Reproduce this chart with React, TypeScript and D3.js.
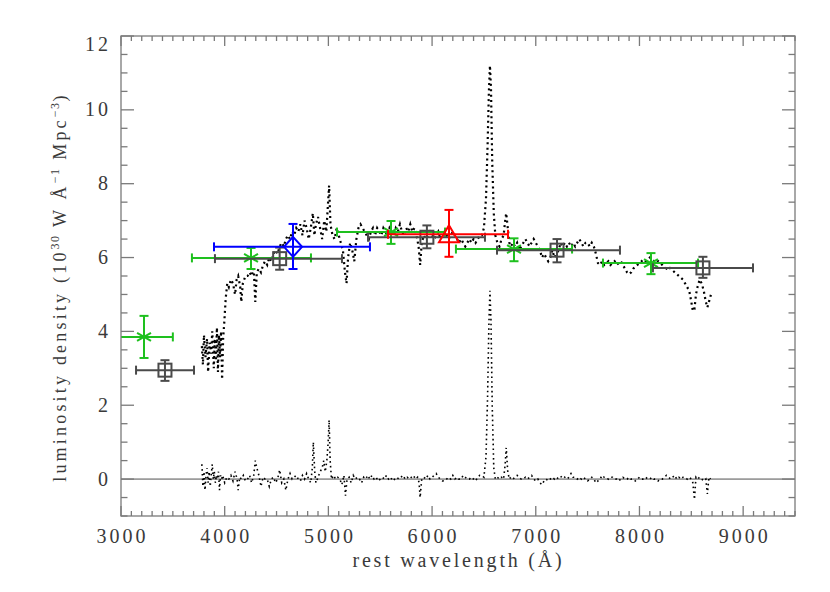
import * as d3 from "d3";

// upper (continuum) spectrum: rest wavelength (Å) and luminosity density
const specWave = [
  3780, 3790, 3800, 3815, 3830, 3840, 3855, 3870, 3880, 3895, 3905, 3915, 3925, 3935, 3945, 3955, 3965, 3975, 3985, 3995,
  4010, 4025, 4040, 4060, 4080, 4100, 4115, 4130, 4150, 4160, 4175, 4200, 4220, 4240, 4260, 4280, 4295, 4310, 4330, 4350,
  4370, 4390, 4410, 4430, 4450, 4470, 4490, 4510, 4530, 4550, 4570, 4590, 4610, 4630, 4650, 4670, 4690, 4710, 4730, 4750,
  4770, 4790, 4810, 4830, 4850, 4865, 4880, 4900, 4920, 4940, 4960, 4980, 4995, 5007, 5020, 5040, 5060, 5080, 5100, 5120,
  5140, 5160, 5175, 5190, 5210, 5230, 5250, 5270, 5290, 5310, 5330, 5350, 5370, 5390, 5410, 5430, 5450, 5470, 5490, 5510,
  5530, 5550, 5570, 5590, 5610, 5630, 5650, 5670, 5690, 5710, 5730, 5750, 5770, 5790, 5810, 5830, 5850, 5870, 5885, 5900,
  5920, 5940, 5960, 5980, 6000, 6020, 6040, 6060, 6080, 6100, 6120, 6140, 6160, 6180, 6200, 6220, 6240, 6260, 6280, 6300,
  6320, 6340, 6360, 6380, 6400, 6420, 6440, 6460, 6480, 6500, 6520, 6535, 6548, 6558, 6568, 6580, 6595, 6610, 6630, 6650,
  6670, 6690, 6705, 6715, 6730, 6745, 6760, 6780, 6800, 6820, 6840, 6860, 6880, 6900, 6920, 6940, 6960, 6980, 7000, 7020,
  7040, 7060, 7080, 7100, 7120, 7140, 7160, 7180, 7200, 7220, 7240, 7260, 7280, 7300, 7320, 7340, 7360, 7380, 7400, 7420,
  7440, 7460, 7480, 7500, 7520, 7540, 7560, 7580, 7600, 7620, 7640, 7660, 7680, 7700, 7720, 7740, 7760, 7780, 7800, 7820,
  7840, 7860, 7880, 7900, 7920, 7940, 7960, 7980, 8000, 8020, 8040, 8060, 8080, 8100, 8120, 8140, 8160, 8180, 8200, 8220,
  8240, 8260, 8280, 8300, 8320, 8340, 8360, 8380, 8400, 8420, 8440, 8460, 8480, 8500, 8515, 8530, 8545, 8560, 8580, 8600,
  8620, 8640, 8655, 8670, 8690,
];
const specFlux = [
  3.6, 3.1, 3.9, 3.3, 3.8, 2.9, 3.7, 3.4, 4.0, 3.0, 3.8, 3.2, 4.1, 2.9, 3.9, 3.3, 4.0, 2.7, 3.8, 4.2,
  4.9, 5.3, 5.2, 5.4, 5.3, 5.0, 5.4, 5.5, 5.2, 4.8, 5.3, 5.5, 5.5, 5.6, 5.5, 5.7, 4.8, 5.6, 5.7, 5.6,
  5.8, 5.9, 5.8, 6.0, 5.9, 6.1, 6.2, 6.1, 6.3, 6.4, 6.3, 6.5, 6.6, 6.5, 6.7, 6.6, 6.8, 6.7, 6.9, 6.6,
  7.0, 6.8, 6.5, 6.8, 7.2, 6.6, 6.9, 7.1, 6.8, 6.5, 7.0, 6.7, 7.4, 7.95, 6.9, 6.6, 6.5, 6.8, 6.6, 6.4,
  6.2, 5.6, 5.3, 6.0, 6.4, 6.2, 5.9, 6.5, 6.8, 6.9, 6.8, 6.7, 6.6, 6.5, 6.7, 6.8, 6.6, 6.8, 6.7, 6.6,
  6.8, 6.7, 6.6, 6.8, 6.7, 6.6, 6.8, 6.7, 6.9, 6.7, 6.6, 6.8, 6.7, 6.9, 6.7, 6.8, 6.6, 6.3, 5.8, 6.4,
  6.6, 6.5, 6.6, 6.7, 6.6, 6.5, 6.6, 6.7, 6.5, 6.6, 6.7, 6.6, 6.5, 6.6, 6.7, 6.6, 6.5, 6.4, 6.5, 6.4,
  6.3, 6.4, 6.5, 6.4, 6.5, 6.4, 6.5, 6.6, 6.6, 6.8, 7.6, 9.0, 10.5, 11.2, 10.6, 8.6, 7.2, 6.6, 6.4, 6.3,
  6.5, 6.6, 7.0, 7.2, 6.8, 6.4, 6.3, 6.4, 6.3, 6.4, 6.2, 6.3, 6.4, 6.5, 6.4, 6.3, 6.4, 6.5, 6.4, 6.3,
  6.2, 6.0, 6.1, 6.0, 5.9, 6.0, 6.2, 6.0, 6.1, 6.2, 6.4, 6.3, 6.4, 6.3, 6.4, 6.3, 6.4, 6.3, 6.4, 6.5,
  6.4, 6.3, 6.4, 6.4, 6.3, 6.4, 6.3, 6.1, 5.85, 5.8, 5.9, 5.8, 5.85, 5.9, 5.8, 5.85, 5.9, 5.8, 5.85, 5.9,
  5.8, 5.7, 5.6, 5.55, 5.6, 5.7, 5.75, 5.8, 5.85, 5.9, 5.95, 5.9, 5.95, 6.0, 5.95, 5.9, 5.85, 5.9, 5.85, 5.8,
  5.75, 5.7, 5.75, 5.7, 5.65, 5.6, 5.55, 5.5, 5.45, 5.4, 5.3, 5.2, 5.1, 4.8, 4.55, 4.6, 5.0, 5.2, 5.4, 5.3,
  5.1, 4.8, 4.65, 4.8, 5.0,
];

// lower (residual / emission-line) spectrum
const residWave = [
  3780, 3790, 3800, 3810, 3820, 3830, 3840, 3850, 3860, 3870, 3880, 3890, 3900, 3910, 3920, 3930, 3940, 3950, 3960, 3970,
  3980, 3990, 4000, 4020, 4040, 4060, 4080, 4100, 4120, 4130, 4145, 4160, 4180, 4200, 4220, 4240, 4260, 4280, 4295, 4310,
  4330, 4350, 4370, 4390, 4410, 4430, 4450, 4470, 4490, 4510, 4530, 4550, 4570, 4590, 4610, 4630, 4650, 4670, 4690, 4710,
  4730, 4750, 4770, 4790, 4810, 4830, 4845, 4855, 4868, 4880, 4900, 4920, 4940, 4955, 4970, 4985, 4998, 5007, 5017, 5030,
  5050, 5070, 5090, 5110, 5130, 5150, 5165, 5180, 5200, 5220, 5240, 5260, 5280, 5300, 5320, 5340, 5360, 5380, 5400, 5420,
  5440, 5460, 5480, 5500, 5520, 5540, 5560, 5580, 5600, 5620, 5640, 5660, 5680, 5700, 5720, 5740, 5760, 5780, 5800, 5820,
  5840, 5860, 5875, 5885, 5900, 5920, 5940, 5960, 5980, 6000, 6020, 6040, 6060, 6080, 6100, 6120, 6140, 6160, 6180, 6200,
  6220, 6240, 6260, 6280, 6300, 6320, 6340, 6360, 6380, 6400, 6420, 6440, 6460, 6480, 6500, 6520, 6535, 6548, 6558, 6568,
  6580, 6595, 6610, 6630, 6650, 6670, 6690, 6705, 6715, 6730, 6745, 6760, 6780, 6800, 6820, 6840, 6860, 6880, 6900, 6920,
  6940, 6960, 6980, 7000, 7020, 7040, 7060, 7080, 7100, 7120, 7140, 7160, 7180, 7200, 7220, 7240, 7260, 7280, 7300, 7320,
  7340, 7360, 7380, 7400, 7420, 7440, 7460, 7480, 7500, 7520, 7540, 7560, 7580, 7600, 7620, 7640, 7660, 7680, 7700, 7720,
  7740, 7760, 7780, 7800, 7820, 7840, 7860, 7880, 7900, 7920, 7940, 7960, 7980, 8000, 8020, 8040, 8060, 8080, 8100, 8120,
  8140, 8160, 8180, 8200, 8220, 8240, 8260, 8280, 8300, 8320, 8340, 8360, 8380, 8400, 8420, 8440, 8460, 8480, 8500, 8515,
  8530, 8545, 8560, 8580, 8600, 8620, 8640, 8655, 8670, 8685,
];
const residFlux = [
  0.4, -0.2, 0.2, -0.3, 0.1, 0.3, -0.1, 0.2, -0.2, 0.1, 0.4, 0.0, 0.2, -0.1, 0.1, 0.0, 0.2, -0.3, 0.1, 0.0,
  0.1, 0.0, -0.1, 0.05, 0.0, 0.1, -0.05, 0.2, 0.0, -0.3, 0.05, 0.0, 0.1, -0.05, 0.0, 0.1, -0.1, 0.1, 0.5, 0.3,
  0.1, -0.2, 0.05, 0.0, 0.0, -0.2, 0.0, 0.05, -0.1, 0.0, 0.25, -0.1, 0.0, -0.3, 0.0, 0.15, 0.0, 0.05, 0.1, 0.0,
  -0.05, 0.1, 0.0, 0.15, 0.0, -0.1, 0.3, 1.0, 0.2, -0.1, 0.05, 0.2, 0.3, 0.5, 0.2, 0.5, 1.0, 1.6, 0.5, 0.0,
  0.1, 0.0, 0.05, 0.0, -0.15, 0.1, -0.45, 0.0, 0.05, -0.1, 0.1, 0.0, 0.05, 0.0, -0.1, 0.05, 0.0, 0.1, 0.0, 0.1,
  0.0, 0.05, -0.05, 0.0, 0.05, 0.0, 0.1, 0.0, 0.05, -0.05, 0.0, 0.05, 0.0, 0.05, 0.1, 0.0, 0.05, 0.0, 0.05, 0.1,
  0.0, 0.05, -0.1, -0.5, 0.0, 0.05, 0.0, 0.1, 0.0, 0.05, 0.1, 0.15, 0.05, 0.0, -0.05, -0.05, 0.0, 0.05, 0.0, 0.1,
  0.0, 0.05, 0.0, 0.0, 0.1, 0.05, 0.0, 0.0, 0.05, 0.0, -0.05, 0.05, 0.1, 0.1, 0.05, 0.6, 2.2, 4.2, 5.1, 4.3,
  2.0, 0.3, 0.0, 0.05, 0.0, 0.05, 0.0, 0.4, 0.85, 0.2, 0.0, 0.05, 0.0, 0.05, 0.1, 0.05, 0.0, 0.0, 0.05, 0.0,
  0.05, 0.1, 0.0, -0.05, 0.0, -0.1, -0.15, -0.05, 0.0, -0.05, 0.0, 0.05, 0.0, 0.05, 0.0, 0.05, 0.1, 0.05, 0.0, 0.05,
  0.15, 0.05, 0.05, 0.0, 0.05, 0.0, 0.05, 0.0, -0.05, 0.0, 0.05, 0.0, -0.1, -0.05, 0.0, 0.1, 0.05, 0.05, 0.0, 0.05,
  0.05, 0.0, 0.0, -0.05, 0.0, 0.05, 0.0, 0.0, 0.05, 0.0, 0.0, -0.05, 0.0, 0.05, 0.0, 0.0, 0.05, 0.0, 0.0, 0.05,
  0.0, 0.0, -0.05, 0.0, 0.0, 0.05, 0.1, 0.05, 0.0, 0.05, 0.1, 0.0, 0.05, 0.0, 0.05, 0.05, 0.0, 0.05, 0.0, -0.1,
  -0.55, 0.05, 0.0, 0.05, 0.0, -0.05, 0.0, -0.4, 0.05, 0.0,
];

// broadband photometry with error bars
const squareX = [3424, 4530, 5950, 7205, 8612];
const squareY = [2.95, 5.97, 6.55, 6.2, 5.72];
const squareXLo = [3145, 3906, 5382, 6626, 8130];
const squareXHi = [3704, 5131, 6510, 7812, 9095];
const squareYLo = [2.66, 5.67, 6.25, 5.87, 5.45];
const squareYHi = [3.22, 6.27, 6.87, 6.5, 6.02];

const starX = [3222, 4254, 5604, 6790, 8111];
const starY = [3.85, 5.99, 6.69, 6.23, 5.85];
const starXLo = [2944, 3684, 5083, 6230, 7648];
const starXHi = [3500, 4832, 6125, 7350, 8565];
const starYLo = [3.28, 5.69, 6.37, 5.9, 5.55];
const starYHi = [4.42, 6.26, 6.99, 6.52, 6.12];

const diamondX = [4659];
const diamondY = [6.29];
const diamondXLo = [3897];
const diamondXHi = [5401];
const diamondYLo = [5.69];
const diamondYHi = [6.91];

const triangleX = [6163];
const triangleY = [6.63];
const triangleXLo = [5575];
const triangleXHi = [6732];
const triangleYLo = [6.02];
const triangleYHi = [7.29];

const xTicks = [3000, 4000, 5000, 6000, 7000, 8000, 9000];
const yTicks = [0, 2, 4, 6, 8, 10, 12];

const width = 830;
const height = 592;
const plot = { left: 121, right: 795, top: 36, bottom: 516 };
const font = "'Liberation Serif', 'DejaVu Serif', serif";
const axisColor = "#7a7a7a";
const textColor = "#3a3a3a";
const green = "#1ec01e";
const gray = "#4a4a4a";

type Pt = { x: number; y: number; xlo: number; xhi: number; ylo: number; yhi: number };

function zipPts(x: number[], y: number[], xlo: number[], xhi: number[], ylo: number[], yhi: number[]): Pt[] {
  return x.map((v, i) => ({ x: v, y: y[i], xlo: xlo[i], xhi: xhi[i], ylo: ylo[i], yhi: yhi[i] }));
}

export default function App() {
  const x = d3.scaleLinear().domain([3000, 9500]).range([plot.left, plot.right]);
  const y = d3.scaleLinear().domain([-1, 12]).range([plot.bottom, plot.top]);

  const line = d3
    .line<[number, number]>()
    .x((d) => x(d[0]))
    .y((d) => y(d[1]));

  const upper = line(specWave.map((w, i) => [w, specFlux[i]]));
  const lower = line(residWave.map((w, i) => [w, residFlux[i]]));

  const xMinor = d3.range(3000, 9501, 100);
  const yMinor = d3.range(-1, 12.01, 0.5);

  const errBars = (pts: Pt[], color: string, key: string) =>
    pts.map((p, i) => {
      const cx = x(p.x);
      const cy = y(p.y);
      const x0 = Math.max(x(p.xlo), plot.left);
      const x1 = x(p.xhi);
      const y0 = y(p.ylo);
      const y1 = y(p.yhi);
      return (
        <g key={`${key}-${i}`} stroke={color} strokeWidth={2} fill="none">
          <line x1={x0} x2={x1} y1={cy} y2={cy} />
          {x(p.xlo) >= plot.left && <line x1={x0} x2={x0} y1={cy - 4.5} y2={cy + 4.5} />}
          <line x1={x1} x2={x1} y1={cy - 4.5} y2={cy + 4.5} />
          <line x1={cx} x2={cx} y1={y0} y2={y1} />
          <line x1={cx - 4.5} x2={cx + 4.5} y1={y0} y2={y0} />
          <line x1={cx - 4.5} x2={cx + 4.5} y1={y1} y2={y1} />
        </g>
      );
    });

  const squares = zipPts(squareX, squareY, squareXLo, squareXHi, squareYLo, squareYHi);
  const stars = zipPts(starX, starY, starXLo, starXHi, starYLo, starYHi);
  const diamonds = zipPts(diamondX, diamondY, diamondXLo, diamondXHi, diamondYLo, diamondYHi);
  const triangles = zipPts(triangleX, triangleY, triangleXLo, triangleXHi, triangleYLo, triangleYHi);

  return (
    <svg width={width} height={height} style={{ position: "absolute", left: 0, top: 0 }} fontFamily={font}>
      <rect width={width} height={height} fill="#fff" />

      {/* zero line */}
      <line x1={plot.left} x2={plot.right} y1={y(0)} y2={y(0)} stroke="#222" strokeWidth={0.8} />

      {/* spectra */}
      <path d={upper ?? ""} fill="none" stroke="#000" strokeWidth={2.2} strokeDasharray="2 3.4" />
      <path d={lower ?? ""} fill="none" stroke="#000" strokeWidth={1.6} strokeDasharray="1.6 3.2" />

      {/* photometry */}
      {errBars(stars, green, "s")}
      {stars.map((p, i) => {
        const cx = x(p.x);
        const cy = y(p.y);
        const r = 8;
        return (
          <g key={`star-${i}`} stroke={green} strokeWidth={2}>
            <line x1={cx} x2={cx} y1={cy - r} y2={cy + r} />
            <line x1={cx - r * 0.87} x2={cx + r * 0.87} y1={cy - r * 0.5} y2={cy + r * 0.5} />
            <line x1={cx - r * 0.87} x2={cx + r * 0.87} y1={cy + r * 0.5} y2={cy - r * 0.5} />
          </g>
        );
      })}
      {errBars(squares, gray, "q")}
      {squares.map((p, i) => (
        <rect
          key={`sq-${i}`}
          x={x(p.x) - 6.5}
          y={y(p.y) - 6.5}
          width={13}
          height={13}
          fill="none"
          stroke={gray}
          strokeWidth={2}
        />
      ))}
      {errBars(diamonds, "#0000ff", "d")}
      {diamonds.map((p, i) => {
        const cx = x(p.x);
        const cy = y(p.y);
        return (
          <path
            key={`dm-${i}`}
            d={`M${cx},${cy - 10}L${cx + 9},${cy}L${cx},${cy + 10}L${cx - 9},${cy}Z`}
            fill="none"
            stroke="#0000ff"
            strokeWidth={2}
          />
        );
      })}
      {errBars(triangles, "#ff0000", "t")}
      {triangles.map((p, i) => {
        const cx = x(p.x);
        const cy = y(p.y);
        return (
          <path
            key={`tr-${i}`}
            d={`M${cx},${cy - 9}L${cx + 10},${cy + 8}L${cx - 10},${cy + 8}Z`}
            fill="none"
            stroke="#ff0000"
            strokeWidth={2}
          />
        );
      })}

      {/* frame and ticks */}
      <g stroke={axisColor} strokeWidth={1.3}>
        <rect
          x={plot.left}
          y={plot.top}
          width={plot.right - plot.left}
          height={plot.bottom - plot.top}
          fill="none"
        />
        {xMinor.map((v) => {
          const len = v % 1000 === 0 ? 10 : 5;
          return (
            <g key={`xt-${v}`}>
              <line x1={x(v)} x2={x(v)} y1={plot.bottom} y2={plot.bottom - len} />
              <line x1={x(v)} x2={x(v)} y1={plot.top} y2={plot.top + len} />
            </g>
          );
        })}
        {yMinor.map((v) => {
          const len = v % 2 === 0 ? 13 : 6.5;
          return (
            <g key={`yt-${v}`}>
              <line x1={plot.left} x2={plot.left + len} y1={y(v)} y2={y(v)} />
              <line x1={plot.right} x2={plot.right - len} y1={y(v)} y2={y(v)} />
            </g>
          );
        })}
      </g>

      {/* tick labels */}
      <g fill={textColor} fontSize={20} letterSpacing={3}>
        {xTicks.map((v) => (
          <text key={`xl-${v}`} x={x(v) + 1.5} y={plot.bottom + 27} textAnchor="middle">
            {v}
          </text>
        ))}
        {yTicks.map((v) => (
          <text
            key={`yl-${v}`}
            x={plot.left - 10}
            y={Math.max(y(v), plot.top + 8) + 6.5}
            textAnchor="end"
          >
            {v}
          </text>
        ))}
      </g>

      {/* axis titles */}
      <text
        x={(352 + 562) / 2 + 1.5}
        y={567}
        textAnchor="middle"
        fontSize={20}
        letterSpacing={2.8}
        fill={textColor}
      >
        rest wavelength (Å)
      </text>
      <text
        transform="translate(66, 287) rotate(-90)"
        textAnchor="middle"
        fontSize={18}
        letterSpacing={3.2}
        fill={textColor}
      >
        luminosity density (10
        <tspan fontSize={12} dy={-7} letterSpacing={1.5}>30</tspan>
        <tspan dy={7}> W Å</tspan>
        <tspan fontSize={12} dy={-7} letterSpacing={1.5}>−1</tspan>
        <tspan dy={7}> Mpc</tspan>
        <tspan fontSize={12} dy={-7} letterSpacing={1.5}>−3</tspan>
        <tspan dy={7}>)</tspan>
      </text>
    </svg>
  );
}
